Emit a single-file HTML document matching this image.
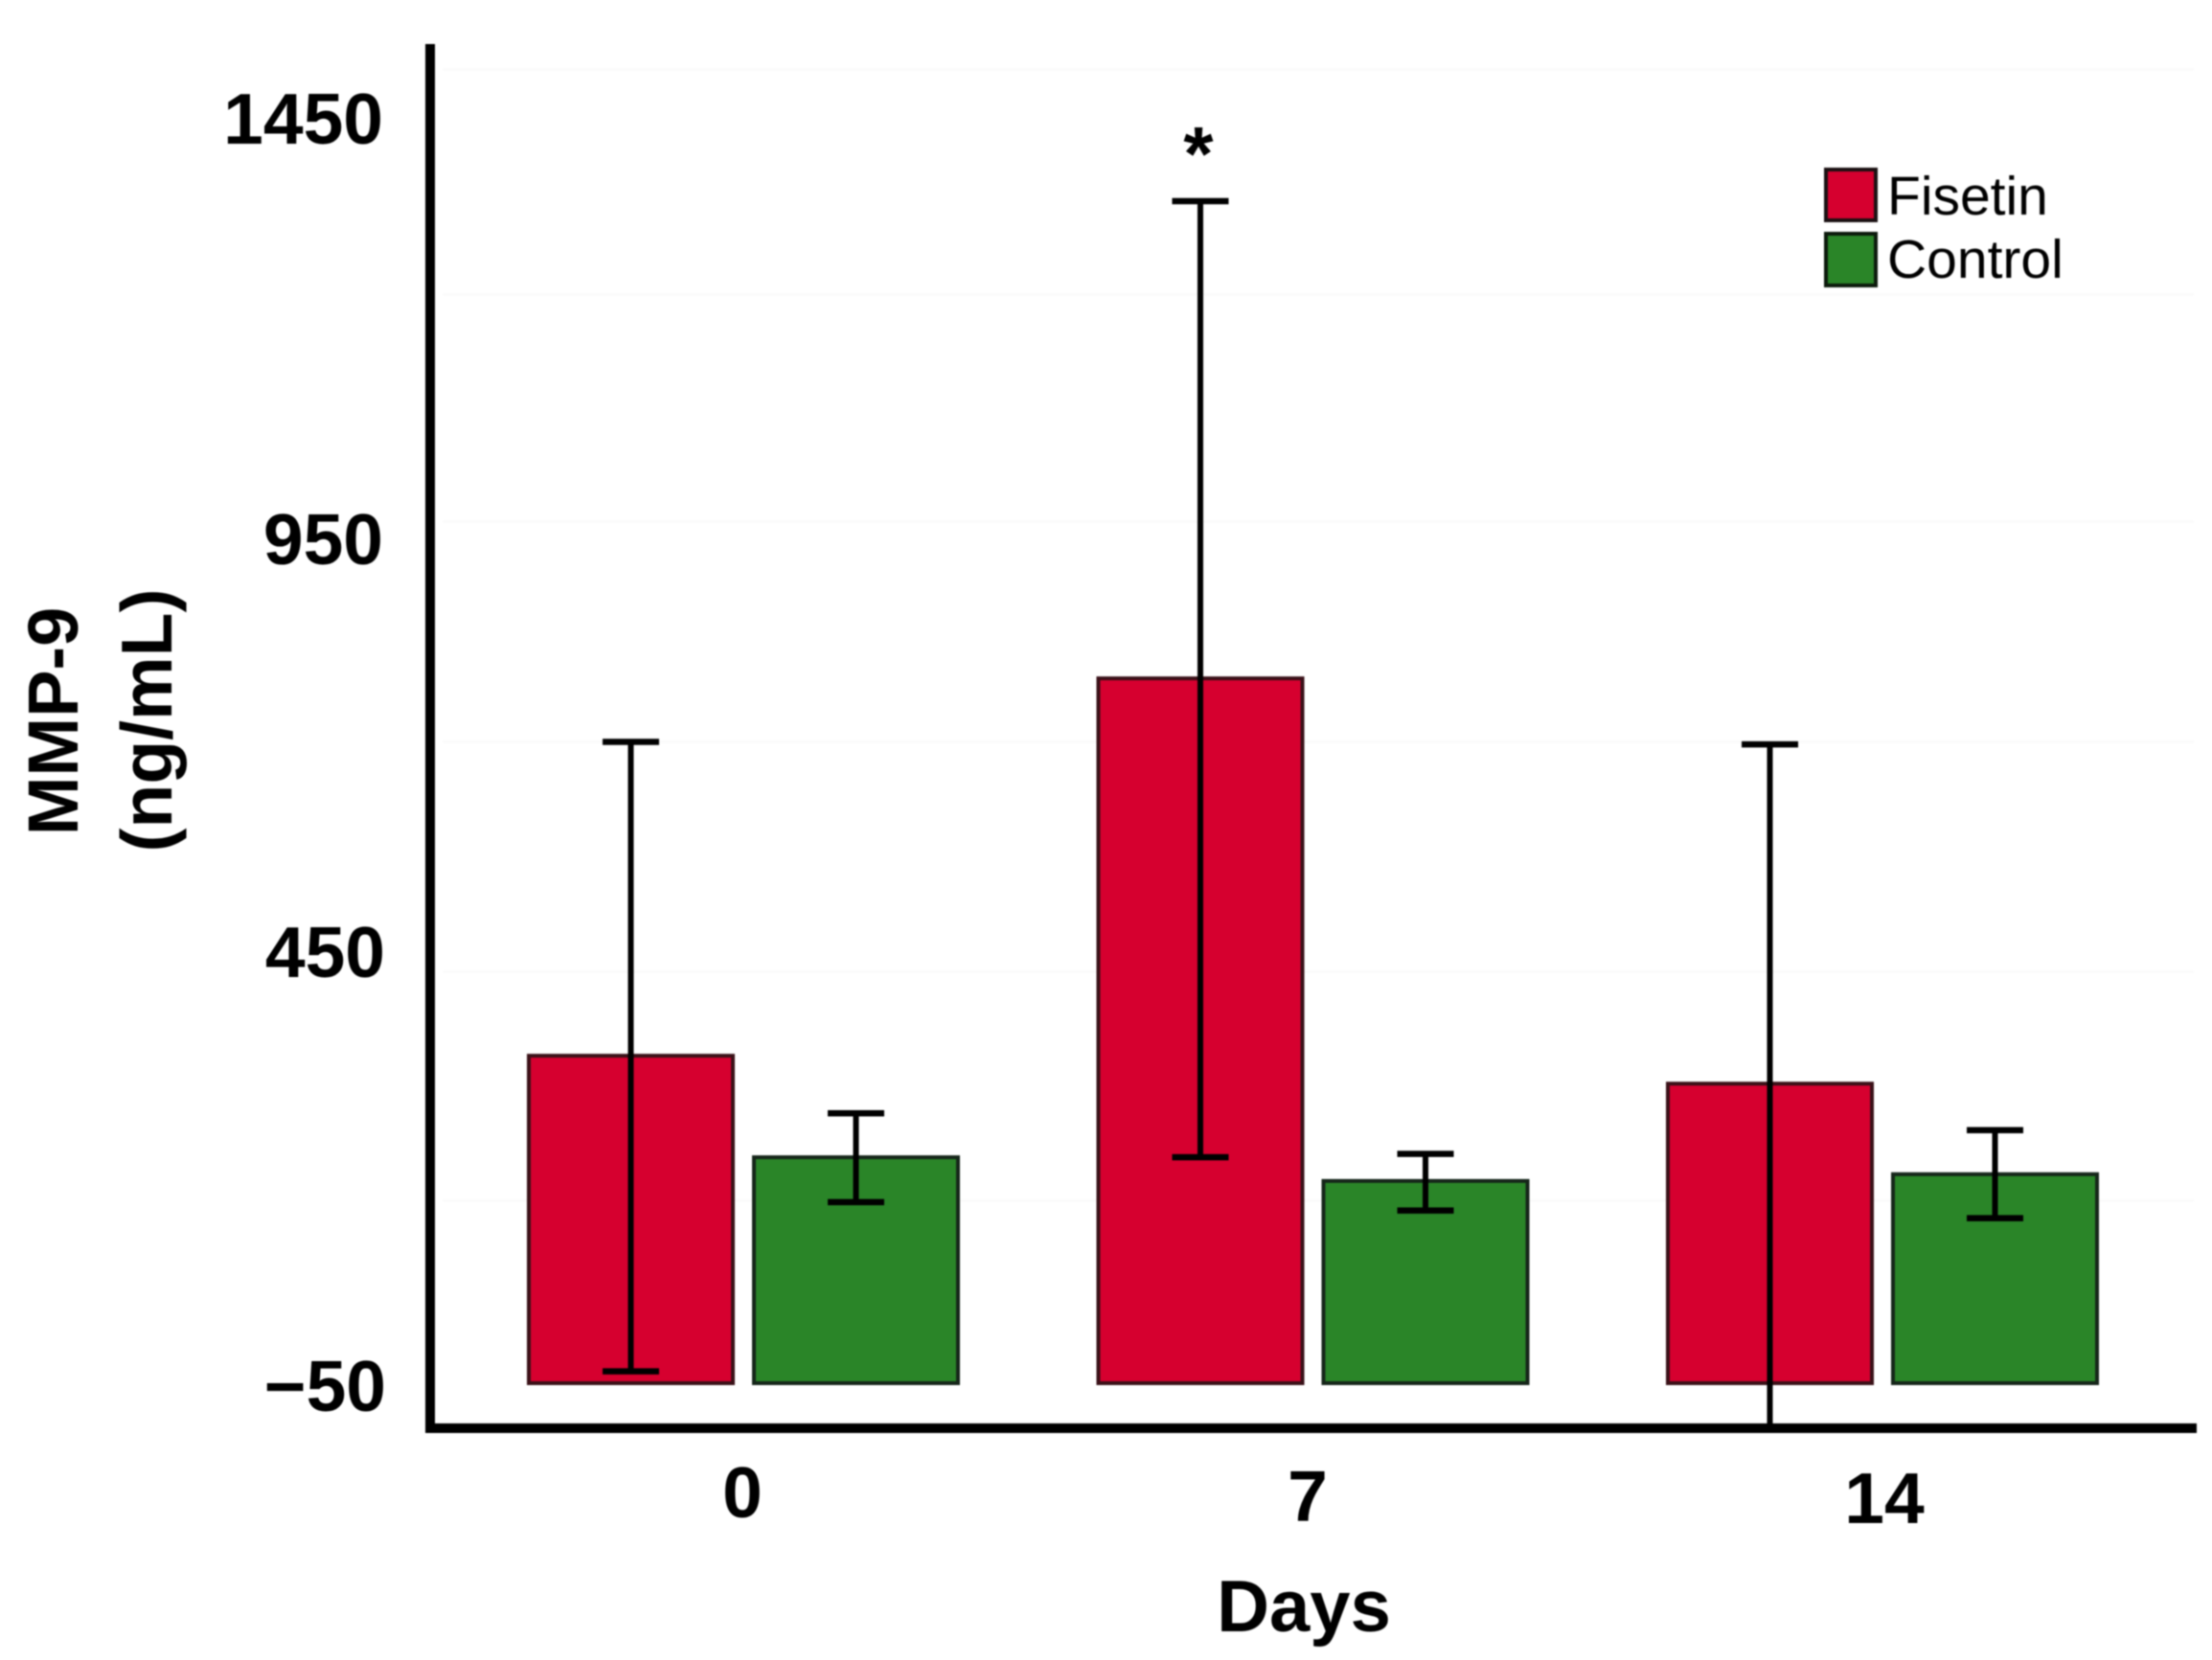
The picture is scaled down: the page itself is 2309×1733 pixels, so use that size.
<!DOCTYPE html>
<html lang="en">
<head>
<meta charset="utf-8">
<title>MMP-9 by day</title>
<style>
  html, body { margin: 0; padding: 0; background: #fff; }
  #chart { display: block; width: 2309px; height: 1733px; font-family: "Liberation Sans", Arial, sans-serif; filter: blur(0.7px); }
  .tick { font-size: 75px; font-weight: 700; fill: #000; }
  .legend-label { font-size: 57px; fill: #000; }
</style>
</head>
<body>
<svg id="chart" xmlns="http://www.w3.org/2000/svg" width="2309" height="1733" viewBox="0 0 2309 1733">
  <rect x="0" y="0" width="2309" height="1733" fill="#ffffff"/>
  <g id="grid"></g>
  <g id="bars"></g>
  <g id="errors"></g>

  <rect x="444" y="46" width="10" height="1450" fill="#000"/>
  <rect x="448" y="1486" width="1845" height="10" fill="#000"/>

  <g text-anchor="end">
    <text class="tick" x="400" y="150">1450</text>
    <text class="tick" x="400" y="589">950</text>
    <text class="tick" x="402" y="1020">450</text>
    <text class="tick" x="403" y="1473">−50</text>
  </g>
  <g text-anchor="middle">
    <text class="tick" x="775" y="1584">0</text>
    <text class="tick" x="1365" y="1588">7</text>
    <text class="tick" x="1967" y="1590">14</text>
  </g>

  <text x="1361" y="1703" text-anchor="middle" font-size="76" font-weight="700">Days</text>
  <text transform="translate(81 753) rotate(-90)" text-anchor="middle" font-size="74" font-weight="700">MMP-9</text>
  <text transform="translate(179 752) rotate(-90)" text-anchor="middle" font-size="75" font-weight="700">(ng/mL)</text>

  <text x="1251" y="188" text-anchor="middle" font-size="80" font-weight="700">*</text>

  <g>
    <rect x="1906" y="177" width="52" height="53" fill="#d6002f" stroke="#1a1012" stroke-width="4"/>
    <text class="legend-label" x="1970" y="224">Fisetin</text>
    <rect x="1906" y="244" width="52" height="54" fill="#2a8528" stroke="#0c1a0c" stroke-width="4"/>
    <text class="legend-label" x="1970" y="290">Control</text>
  </g>
</svg>

<script>
const days = ['0', '7', '14'];
const fisetinMean = [337, 783, 304];
const fisetinUpper = [708, 1347, 705];
const fisetinLower = [-36, 217, -100];
const controlMean = [217, 189, 197];
const controlUpper = [269, 221, 249];
const controlLower = [164, 154, 145];
const gridValues = [1503, 1237, 968, 708, 436, 166];
const axisBase = -50;

const SVG_NS = 'http://www.w3.org/2000/svg';

function yScale(v) {
  return 1444 - (v - axisBase) * 0.8833;
}
function xGroup(i) {
  return 776 + i * 594.5;
}
function make(tag, attrs, parent) {
  const el = document.createElementNS(SVG_NS, tag);
  Object.keys(attrs).forEach(function (k) { el.setAttribute(k, attrs[k]); });
  parent.appendChild(el);
  return el;
}

const gridLayer = document.getElementById('grid');
const barLayer = document.getElementById('bars');
const errorLayer = document.getElementById('errors');

gridValues.forEach(function (v) {
  const y = yScale(v);
  const line = make('line', { x1: 462, x2: 2290, y1: y, y2: y, stroke: '#fbfbfb', 'stroke-width': 3 }, gridLayer);
  
  
});

const BAR_WIDTH = 213;
const BAR_OFFSET = 117.5;

function drawSeries(name, means, uppers, lowers, sign, fill, edge) {
  means.forEach(function (mean, i) {
    const cx = xGroup(i) + sign * BAR_OFFSET;
    const top = yScale(mean);
    const bar = make('rect', {
      x: cx - BAR_WIDTH / 2,
      y: top,
      width: BAR_WIDTH,
      height: yScale(axisBase) - top,
      fill: fill,
      stroke: edge,
      'stroke-width': 4
    }, barLayer);
    
    

    const yUp = yScale(uppers[i]);
    const yLo = yScale(lowers[i]);
    const group = make('g', { stroke: '#000', fill: 'none' }, errorLayer);
    
    

    const stem = make('line', { x1: cx, x2: cx, y1: yUp, y2: yLo, 'stroke-width': 6 }, group);
    
    

    const capTop = make('line', { x1: cx - 29.5, x2: cx + 29.5, y1: yUp, y2: yUp, 'stroke-width': 6.5 }, group);
    
    

    if (yLo < 1444) {
      const capBottom = make('line', { x1: cx - 29.5, x2: cx + 29.5, y1: yLo, y2: yLo, 'stroke-width': 6.5 }, group);
      
      
    }
  });
}

drawSeries('fisetin', fisetinMean, fisetinUpper, fisetinLower, -1, '#d6002f', '#3a1118');
drawSeries('control', controlMean, controlUpper, controlLower, 1, '#2a8528', '#16261a');
</script>
</body>
</html>
